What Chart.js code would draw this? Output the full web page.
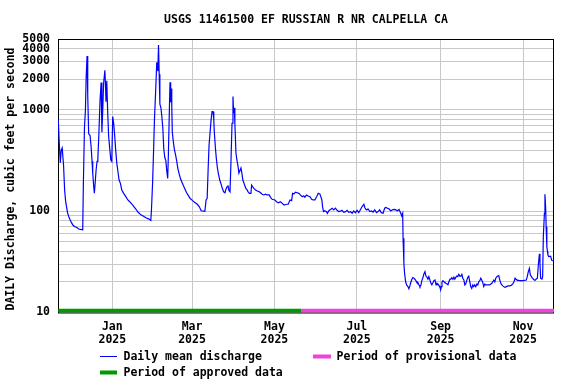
<!DOCTYPE html>
<html>
<head>
<meta charset="utf-8">
<script src="https://cdn.jsdelivr.net/npm/chart.js@4.4.1/dist/chart.umd.min.js"></script>
<style>
  html, body { margin: 0; padding: 0; background: #fff; }
</style>
</head>
<body>
<canvas id="flowChart" width="576" height="384"></canvas>
<script>
const stationTitle = "USGS 11461500 EF RUSSIAN R NR CALPELLA CA";
const yAxisTitle = "DAILY Discharge, cubic feet per second";

// day numbers counted from 2024-11-22
const flowDays = [
  0, 0.7, 1.5, 2.2, 2.9, 3.9, 4.7, 5.4, 6.1, 6.9, 7.8, 8.8, 9.8, 10.8, 12, 13.7, 14.9, 16.2, 18.1, 18.6,
  19.4, 20.1, 20.6, 21.3, 21.8, 22.5, 23.5, 24.3, 25, 25.5, 26.2, 26.7, 27.2, 28, 28.7, 29.3, 30, 30.9, 31.7, 32.3,
  33, 33.6, 34.5, 35, 35.3, 35.9, 36.6, 37.3, 38.2, 38.9, 39.6, 40.3, 41, 41.8, 42.5, 43.3, 44, 45, 46, 47,
  48.4, 50, 51.5, 52.9, 55.1, 57.4, 59.1, 61.2, 63.1, 64.8, 66.8, 68.5, 69, 69.8, 70.5, 71.2, 72, 72.9, 73.7, 74.2,
  74.7, 75.2, 75.9, 76.6, 77.4, 78.1, 78.8, 79.6, 80.3, 81, 81.5, 82.3, 82.7, 83.2, 83.7, 84, 84.4, 85.2, 85.9, 86.9,
  87.6, 88.6, 89.6, 90.6, 91.6, 92.5, 93.8, 95, 96.2, 97.5, 99.4, 101.1, 102.9, 104.3, 105.8, 108.5, 109.4, 110.2, 110.9, 111.6,
  112.4, 113.1, 113.8, 114.6, 115.1, 115.5, 116.3, 117, 117.8, 118.5, 119.5, 120.5, 121.4, 122.4, 123.4, 124.1, 124.9, 125.6, 126.3, 127.1,
  127.8, 128.6, 129.3, 129.8, 130.3, 130.7, 131.5, 132.2, 133, 133.7, 134.4, 135.2, 135.9, 136.6, 137.4, 138.1, 138.8, 139.8, 140.5, 141.5,
  142.6, 143.1, 143.8, 144.8, 146, 147.3, 148.5, 149.7, 150.9, 152.2, 153.4, 154.6, 156.1, 157.1, 158.3, 160.3, 161.5, 163, 164.4, 165.6,
  167.1, 169, 170.2, 171.5, 172.7, 173.4, 174.4, 175.6, 176.8, 178.1, 179.3, 180.5, 181.7, 182.5, 183.7, 185, 186.3, 187.5, 188.7, 189.9,
  191.2, 192.4, 193.6, 194.3, 195.1, 195.6, 196.3, 197.3, 198.5, 199.2, 200.2, 201.5, 202.7, 203.9, 205.1, 206.4, 207.6, 208.8, 210, 211.3,
  212.6, 213.8, 215, 216.3, 217.5, 218.7, 219.9, 221.2, 222.4, 223.7, 224.9, 226.2, 226.9, 228.1, 229.3, 230.6, 231.8, 233, 234.2, 235.5,
  236.7, 237.9, 239.1, 240.4, 241.6, 242.4, 243.7, 244.9, 246.1, 247.3, 248.6, 249.8, 251, 252.2, 253.5, 254.2, 254.9, 255.2, 255.8, 256.3,
  257.1, 257.8, 258.8, 259.5, 260.3, 261, 261.7, 262.5, 263.2, 263.9, 264.8, 265.5, 266.2, 267, 267.7, 268.4, 269.2, 269.9, 270.6, 271.4,
  272.1, 272.9, 273.6, 274.3, 275.1, 275.8, 276.5, 277.3, 278, 278.8, 279.6, 280.3, 281, 281.8, 282.5, 283, 283.5, 284, 284.7, 285.5,
  286.2, 286.9, 287.7, 288.4, 289.1, 289.9, 290.6, 291.3, 292.1, 292.8, 293.5, 294.3, 295, 295.7, 296.5, 297.2, 298, 298.7, 299.4, 300.2,
  300.9, 301.6, 302.4, 303.1, 303.8, 304.6, 305.3, 306, 306.8, 307.5, 308.2, 309, 309.8, 310.5, 311.2, 312, 312.7, 313.4, 314.2, 314.9,
  315.7, 316.4, 317.9, 319.3, 320.2, 320.9, 321.6, 322.4, 323.1, 323.8, 324.6, 325.3, 326, 326.8, 327.5, 328.3, 329, 329.7, 330.5, 331.7,
  332.9, 334.1, 335.4, 336.6, 337.3, 338.1, 338.8, 339.5, 341.5, 343.9, 346.4, 347.1, 347.9, 348.7, 349.4, 350.2, 350.9, 351.6, 352.4, 353.1,
  353.8, 354.6, 355.3, 356.1, 356.5, 357, 358, 358.5, 359, 359.8, 360.2, 360.7, 361.1, 361.6, 362.1, 362.4, 362.9, 364.4, 365.1, 365.9
];
const flowValues = [
  800, 480, 300, 400, 420, 285, 162, 127, 111, 96, 88, 82, 77, 73, 70.5, 69, 67, 66, 65.5, 195,
  680, 990, 2000, 3400, 1400, 580, 560, 435, 310, 237, 178, 150, 181, 255, 310, 330, 555, 1220, 1860, 600,
  1080, 1860, 2450, 1690, 1200, 1940, 925, 545, 400, 320, 310, 860, 737, 545, 400, 300, 255, 203, 188, 162,
  150, 139, 129, 124, 115, 105, 97.5, 92, 89, 86, 84, 81, 105, 190, 380, 810, 1440, 2950, 2400, 4350,
  2250, 1140, 1060, 880, 650, 410, 340, 315, 250, 210, 365, 1100, 1875, 1190, 1620, 1100, 600, 480, 410, 355,
  315, 260, 230, 206, 192, 180, 165, 152, 143, 134, 127, 122, 117, 111, 101, 99.5, 129, 134, 255, 450,
  610, 795, 960, 960, 795, 600, 420, 330, 265, 235, 203, 185, 168, 155, 152, 165, 174, 180, 160, 155,
  300, 737, 1350, 925, 1050, 735, 375, 320, 280, 237, 250, 267, 237, 203, 190, 178, 168, 162, 155, 150,
  150, 181, 175, 168, 162, 158, 156, 152, 147, 144.5, 147, 144.5, 144.5, 137, 131, 129, 124, 121, 124, 120,
  115, 117, 117, 129, 127, 150, 148, 154, 152, 150, 144, 139, 142, 137, 144, 141, 139, 131, 129, 129,
  139, 150, 148, 139, 129, 111, 99, 101, 99, 95, 101, 104, 107, 103, 107, 102, 99, 100, 102, 97.5,
  99, 102, 97.5, 99, 95.3, 100.5, 96.6, 102, 96.6, 104, 111, 117, 108, 103, 105, 99, 100.5, 98, 103, 96.6,
  99, 103, 96.6, 95.3, 107, 109, 107, 105, 100.5, 103, 104, 103, 101, 104, 95.3, 89.7, 95.3, 54, 30.6, 24.4,
  20.1, 18.7, 18, 17.1, 18.4, 20, 21.3, 22.1, 21.8, 21.3, 20.5, 19.7, 19.7, 18.7, 18, 18.7, 20.9, 22.1, 24, 25.3,
  22.9, 22.3, 21.3, 22.6, 20.9, 19.4, 18.8, 19.7, 20.6, 20.9, 18.7, 19.4, 19.1, 18.4, 17.7, 16.7, 18, 20, 20.6, 20.1,
  19.7, 19.4, 19.1, 18.8, 20.1, 21.3, 21.3, 22.1, 21.3, 22.3, 21.3, 22.3, 22.9, 22.6, 23.8, 22.9, 22.9, 23.8, 21.8, 20.9,
  18.7, 19.1, 20.9, 22.3, 22.9, 20.1, 18, 17.3, 18.7, 18, 18.7, 18, 19.1, 18.7, 20.1, 20.6, 21.8, 20.9, 19.7, 18,
  19.1, 18.7, 18.7, 18.7, 19.1, 19.4, 20.1, 20.9, 20.1, 21.8, 22.6, 22.9, 23.1, 20.9, 19.4, 18.7, 18.3, 18, 17.7, 18,
  18.3, 18.3, 18.6, 19.4, 20.1, 21.8, 21.3, 20.9, 20.6, 20.6, 20.9, 22.6, 25.3, 27.3, 23.4, 22.6, 21.8, 21.4, 20.9, 20.9,
  21.4, 21.8, 29.4, 38, 30.6, 21.8, 21.4, 22.6, 56, 95, 147, 110, 70, 44.6, 39.8, 37, 35.6, 36, 33, 32.2
];

const approvedDays = [0, 180];
const provisionalDays = [180, 366.9];

const monthTickDays = [40, 99, 160, 221, 283, 344];
const monthTickLabels = [["Jan", "2025"], ["Mar", "2025"], ["May", "2025"], ["Jul", "2025"], ["Sep", "2025"], ["Nov", "2025"]];
const yTickLabels = [10, 100, 1000, 2000, 3000, 4000, 5000];

const FONT = "DejaVu Sans Mono";
const barLevel = 10.4;

const decor = {
  id: "decor",
  beforeDatasetsDraw(chart) {
    const { ctx, chartArea: a } = chart;
    ctx.save();
    ctx.strokeStyle = "#000";
    ctx.lineWidth = 1;
    ctx.strokeRect(a.left + 0.5, a.top + 0.5, a.right - a.left - 1, a.bottom - a.top);
    ctx.restore();
  },
  afterDraw(chart) {
    const { ctx, chartArea: a } = chart;
    ctx.save();
    ctx.fillStyle = "#000";
    ctx.font = "bold 11.5px '" + FONT + "'";
    ctx.textBaseline = "middle";

    // title
    ctx.textAlign = "center";
    ctx.fillText(stationTitle, (a.left + a.right) / 2, 20.5);

    // y axis title
    ctx.save();
    ctx.translate(11, 179);
    ctx.rotate(-Math.PI / 2);
    ctx.fillText(yAxisTitle, 0, 0);
    ctx.restore();

    // legend
    ctx.textAlign = "left";
    ctx.strokeStyle = "#0000ff";
    ctx.lineWidth = 1;
    ctx.beginPath();
    ctx.moveTo(100, 356.5);
    ctx.lineTo(117, 356.5);
    ctx.stroke();
    ctx.fillText("Daily mean discharge", 123.5, 357);

    ctx.fillStyle = "#ee44dd";
    ctx.fillRect(313, 354.5, 18, 4);
    ctx.fillStyle = "#000";
    ctx.fillText("Period of provisional data", 336.5, 357);

    ctx.fillStyle = "#009900";
    ctx.fillRect(100, 370.5, 17, 4);
    ctx.fillStyle = "#000";
    ctx.fillText("Period of approved data", 123.5, 373);
    ctx.restore();
  }
};

const tickFont = { family: FONT, weight: "bold", size: 11.5, lineHeight: 1.15 };

new Chart(document.getElementById("flowChart"), {
  type: "line",
  data: {
    datasets: [
      {
        label: "Daily mean discharge",
        data: flowDays.map((d, i) => ({ x: d, y: flowValues[i] })),
        borderColor: "#0000ff",
        borderWidth: 1.2,
        pointRadius: 0,
        tension: 0
      },
      {
        label: "Period of approved data",
        data: approvedDays.map(d => ({ x: d, y: barLevel })),
        borderColor: "#009900",
        borderWidth: 4,
        pointRadius: 0
      },
      {
        label: "Period of provisional data",
        data: provisionalDays.map(d => ({ x: d, y: barLevel })),
        borderColor: "#ee44dd",
        borderWidth: 4,
        pointRadius: 0
      }
    ]
  },
  options: {
    responsive: false,
    animation: false,
    devicePixelRatio: 1,
    layout: { padding: { top: 39, right: 22, left: 0, bottom: 0 } },
    plugins: {
      legend: { display: false },
      title: { display: false },
      tooltip: { enabled: false }
    },
    scales: {
      x: {
        type: "linear",
        min: -0.2,
        max: 366.9,
        afterFit(s) { s.height = 71.5; },
        afterBuildTicks(s) { s.ticks = monthTickDays.map(v => ({ value: v })); },
        ticks: {
          autoSkip: false,
          maxRotation: 0,
          padding: 8,
          color: "#000",
          font: tickFont,
          callback(v) {
            const i = monthTickDays.indexOf(v);
            return i >= 0 ? monthTickLabels[i] : "";
          }
        },
        grid: { color: "#c8c8c8", drawTicks: false },
        border: { display: false }
      },
      y: {
        type: "logarithmic",
        min: 10,
        max: 5000,
        afterFit(s) { s.width = 58; },
        afterBuildTicks(s) {
          const vals = [];
          for (let dec = 10; dec <= 1000; dec *= 10) {
            for (let m = 1; m <= 9; m++) {
              if (dec * m <= 5000) vals.push(dec * m);
            }
          }
          s.ticks = vals.map(v => ({ value: v }));
        },
        ticks: {
          autoSkip: false,
          padding: 8,
          color: "#000",
          font: tickFont,
          callback(v) { return yTickLabels.includes(v) ? String(v) : ""; }
        },
        grid: { color: "#c8c8c8", drawTicks: false },
        border: { display: false }
      }
    }
  },
  plugins: [decor]
});
</script>
</body>
</html>
